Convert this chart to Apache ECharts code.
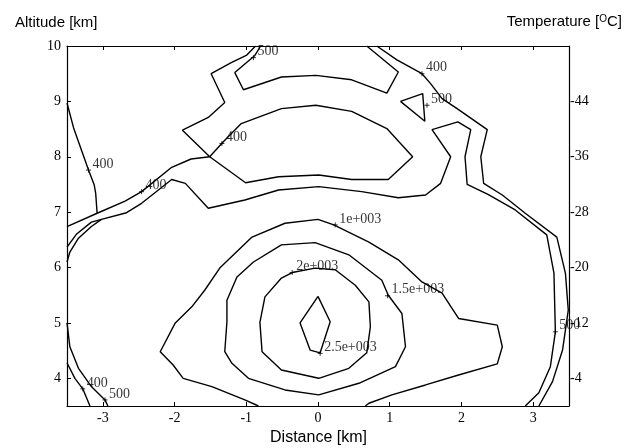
<!DOCTYPE html>
<html>
<head>
<meta charset="utf-8">
<script src="https://cdn.jsdelivr.net/npm/echarts@6/dist/echarts.min.js"></script>
<style>html,body{margin:0;padding:0;background:#fff;}#c{width:637px;height:448px;}</style>
</head>
<body>
<div id="c"></div>
<script>
// ---- axes ----
const xTicks = [-3, -2, -1, 0, 1, 2, 3];
const altTicks = [4, 5, 6, 7, 8, 9, 10];
const tempTickAlt = [4, 5, 6, 7, 8, 9];
const tempLabels = ['-4', '-12', '-20', '-28', '-36', '-44'];

// ---- contour polylines [distance km, altitude km] ----
const c400CornerTL = [[-3.5,8.97],[-3.41,8.53],[-3.2,7.76],[-3.12,7.49],[-3.1,7.34],[-3.08,6.98],[-3.5,6.74]];
const c400Long = [[-3.08,6.98],[-2.69,7.2],[-2.46,7.37],[-2.04,7.81],[-1.77,7.96],[-1.51,8.0],[-1.89,8.48],[-1.53,8.71],[-1.3,8.98],[-1.49,9.5],[-1.21,9.7],[-1.0,9.83],[-0.87,10]];
const c400Inner = [[-1.51,8.0],[-1.32,8.27],[-1.07,8.6],[-0.51,8.87],[-0.03,8.93],[0.47,8.82],[0.96,8.51],[1.32,8.0],[0.98,7.59],[0.47,7.59],[0.01,7.67],[-0.55,7.64],[-1.01,7.53],[-1.51,8.0]];
const c500TopLoop = [[-0.8,10],[-0.88,9.83],[-1.16,9.52],[-1.04,9.21],[-0.51,9.44],[-0.03,9.47],[0.47,9.39],[0.96,9.15],[1.12,9.53],[0.68,10]];
const c500Tri = [[1.15,9.0],[1.46,9.14],[1.49,8.64],[1.15,9.0]];
const c500LeftBranch = [[-3.5,6.37],[-3.37,6.6],[-3.16,6.82],[-3.02,6.87]];
const c500Long = [[-3.5,6.1],[-3.46,6.28],[-3.34,6.53],[-3.16,6.74],[-3.02,6.87],[-2.67,6.99],[-2.46,7.16],[-2.04,7.59],[-1.85,7.52],[-1.53,7.07],[-1.02,7.22],[-0.55,7.4],[0.01,7.46],[0.61,7.37],[1.12,7.26],[1.5,7.31],[1.71,7.52],[1.85,8.0],[1.59,8.49],[1.95,8.63],[2.13,8.49],[2.05,8.0],[2.08,7.5],[2.37,7.32],[2.75,7.04],[3.19,6.59],[3.29,5.9],[3.31,4.84],[3.24,4.21],[3.08,3.74],[2.89,3.5]];
const c400Right = [[0.82,10],[1.1,9.75],[1.45,9.5],[1.57,9.32],[1.73,9.05],[1.94,8.87],[2.36,8.49],[2.27,8.0],[2.31,7.52],[2.57,7.31],[2.89,6.98],[3.33,6.55],[3.45,5.9],[3.49,5.23],[3.41,4.51],[3.27,3.94],[3.08,3.5]];
const c1000 = [[-0.83,3.5],[-1.02,3.61],[-1.48,3.85],[-1.88,4.0],[-2.02,4.24],[-2.2,4.48],[-1.99,5.0],[-1.76,5.29],[-1.58,5.59],[-1.37,5.99],[-0.92,6.55],[-0.46,6.8],[0.0,6.87],[0.22,6.77],[0.71,6.46],[1.12,6.14],[1.45,5.74],[1.73,5.54],[1.96,5.08],[2.5,4.96],[2.57,4.57],[2.5,4.26],[1.96,4.06],[1.5,3.88],[1.03,3.7],[0.71,3.55],[0.66,3.5]];
const c1500 = [[-0.04,6.45],[0.43,6.23],[0.89,5.77],[0.98,5.5],[1.17,5.17],[1.22,4.57],[1.08,4.21],[0.57,3.91],[0.01,3.7],[-0.46,3.79],[-0.97,4.0],[-1.2,4.27],[-1.3,4.48],[-1.27,5.02],[-1.27,5.41],[-1.13,5.83],[-0.9,6.1],[-0.51,6.41],[-0.04,6.45]];
const c2000 = [[-0.36,5.91],[-0.04,5.99],[0.24,5.96],[0.52,5.68],[0.71,5.38],[0.73,4.93],[0.68,4.46],[0.43,4.18],[0.01,4.0],[-0.51,4.15],[-0.78,4.48],[-0.81,5.01],[-0.74,5.47],[-0.51,5.81],[-0.36,5.91]];
const c2500 = [[0,5.48],[0.17,5.02],[0.03,4.46],[-0.11,4.51],[-0.25,5.0],[0,5.48]];
const c400BL = [[-3.5,4.28],[-3.39,4.0],[-3.28,3.81],[-3.18,3.5]];
const c500BL = [[-3.5,5.0],[-3.46,4.57],[-3.34,4.18],[-3.16,3.85],[-2.97,3.61],[-2.93,3.5]];

// ---- contour labels ----
const labelPoints = [[-0.9,9.79],[1.45,9.5],[1.52,8.93],[-1.34,8.24],[-3.2,7.76],[-2.46,7.37],[0.24,6.77],[-0.36,5.91],[0.97,5.49],[0.03,4.45],[3.31,4.84],[-3.28,3.81],[-2.97,3.61]];
const labelTexts = ['500','400','500','400','400','400','1e+003','2e+003','1.5e+003','2.5e+003','500','400','500'];

const contours = [c400CornerTL,c400Long,c400Inner,c500TopLoop,c500Tri,c500LeftBranch,c500Long,c400Right,c1000,c1500,c2000,c2500,c400BL,c500BL];

const serif = 'Liberation Serif';
const sans = 'Liberation Sans';
const lineSeries = contours.map(d => ({
  type: 'line', data: d, showSymbol: false, silent: true, animation: false,
  lineStyle: {color: '#000', width: 1.4}, z: 2
}));

const chart = echarts.init(document.getElementById('c'));
const tickStyle = {lineStyle: {color: '#000', width: 1}};
const axLine = {show: true, onZero: false, lineStyle: {color: '#000', width: 1.2}};
chart.setOption({
  animation: false,
  backgroundColor: '#fff',
  grid: {left: 67, right: 68, top: 46, bottom: 42, containLabel: false},
  xAxis: [
    {type: 'value', min: -3.5, max: 3.5, position: 'bottom', axisLine: axLine,
     axisTick: Object.assign({show: true, inside: true, length: 4, customValues: xTicks}, tickStyle),
     axisLabel: {show: true, customValues: xTicks, formatter: v => String(v), fontFamily: serif, fontSize: 14, color: '#000', margin: 5},
     splitLine: {show: false}},
    {type: 'value', min: -3.5, max: 3.5, position: 'top', axisLine: axLine,
     axisTick: Object.assign({show: true, inside: true, length: 4, customValues: xTicks}, tickStyle),
     axisLabel: {show: false}, splitLine: {show: false}}
  ],
  yAxis: [
    {type: 'value', min: 3.5, max: 10, position: 'left', axisLine: axLine,
     axisTick: Object.assign({show: true, inside: true, length: 4, customValues: altTicks}, tickStyle),
     axisLabel: {show: true, customValues: altTicks, formatter: v => String(v), fontFamily: serif, fontSize: 14, color: '#000', margin: 6},
     splitLine: {show: false}},
    {type: 'value', min: 3.5, max: 10, position: 'right', axisLine: axLine,
     axisTick: {show: false},
     axisLabel: {show: true, customValues: tempTickAlt, formatter: v => tempLabels[tempTickAlt.indexOf(v)], fontFamily: serif, fontSize: 14, color: '#000', margin: 1},
     splitLine: {show: false}}
  ],
  graphic: [
    {type: 'text', left: 15, top: 15, style: {text: 'Altitude [km]', font: '15px ' + sans, fill: '#000'}},
    {type: 'text', right: 15, top: 14, style: {text: 'Temperature [{s|O}C]', font: '15px ' + sans, fill: '#000',
      rich: {s: {fontSize: 10, fontFamily: sans, verticalAlign: 'top', fill: '#000'}}}},
    {type: 'text', left: 'center', top: 430, style: {text: 'Distance [km]', font: '16px ' + sans, fill: '#000'}}
  ],
  series: lineSeries.concat([{
    type: 'scatter', silent: true, animation: false, z: 3,
    data: labelPoints.map((p, i) => ({value: p, name: labelTexts[i]})),
    symbol: 'path://M0,5L10,5M5,0L5,10', symbolSize: 5,
    itemStyle: {color: 'none', borderColor: '#000', borderWidth: 1},
    label: {show: true, position: 'right', distance: 0, offset: [-1, -6], formatter: p => p.name,
      fontFamily: serif, fontSize: 14, color: '#000'}
  }])
});
</script>
</body>
</html>
